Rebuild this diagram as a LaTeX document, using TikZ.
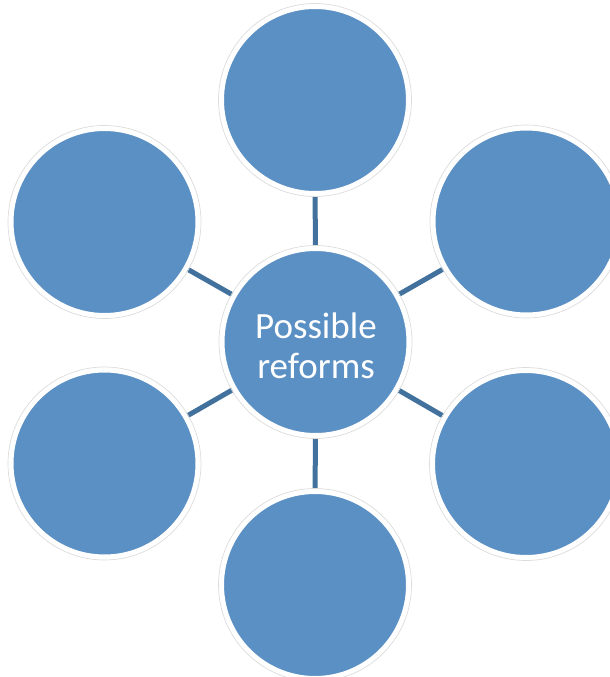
\documentclass[tikz,border=0pt]{standalone}
\usepackage{fontspec}
\setmainfont{Carlito}
\usetikzlibrary{backgrounds}
\definecolor{bubble}{HTML}{5B90C4}
\definecolor{link}{HTML}{41719C}
\definecolor{rim}{HTML}{DCDCDC}
\tikzset{
  bubble/.style={circle, fill=bubble, draw=white, line width=5pt, minimum size=187pt, inner sep=0pt},
  conn/.style={draw=link, line width=5pt},
  rimline/.style={draw=rim, line width=0.7pt},
  lbl/.style={text=white, font=\fontsize{37}{40}\selectfont, align=center, inner sep=0pt}
}
\begin{document}
\begin{tikzpicture}[x=1pt,y=-1pt]
\useasboundingbox (0,0) rectangle (610,677);
\clip (0,0) rectangle (610,677);
\node[bubble] (c)  at (315.5,342) {};
\node[bubble] (t)  at (315,100) {};
\node[bubble] (ul) at (104.5,222) {};
\node[bubble] (ur) at (526.5,221.5) {};
\node[bubble] (ll) at (104.5,463.5) {};
\node[bubble] (lr) at (526,464) {};
\node[bubble] (b)  at (315,585) {};
\foreach \n in {c,t,ul,ur,ll,lr,b}{
  \draw[rimline] (\n.center) circle (96.5pt);
}
\node[lbl] (ctext) at (316,345.5) {Possible\\reforms};
\begin{scope}[on background layer]
\foreach \n in {t,ul,ur,ll,lr,b}{
  \draw[conn] (c.center) -- (\n.center);
}
\end{scope}
\end{tikzpicture}
\end{document}
